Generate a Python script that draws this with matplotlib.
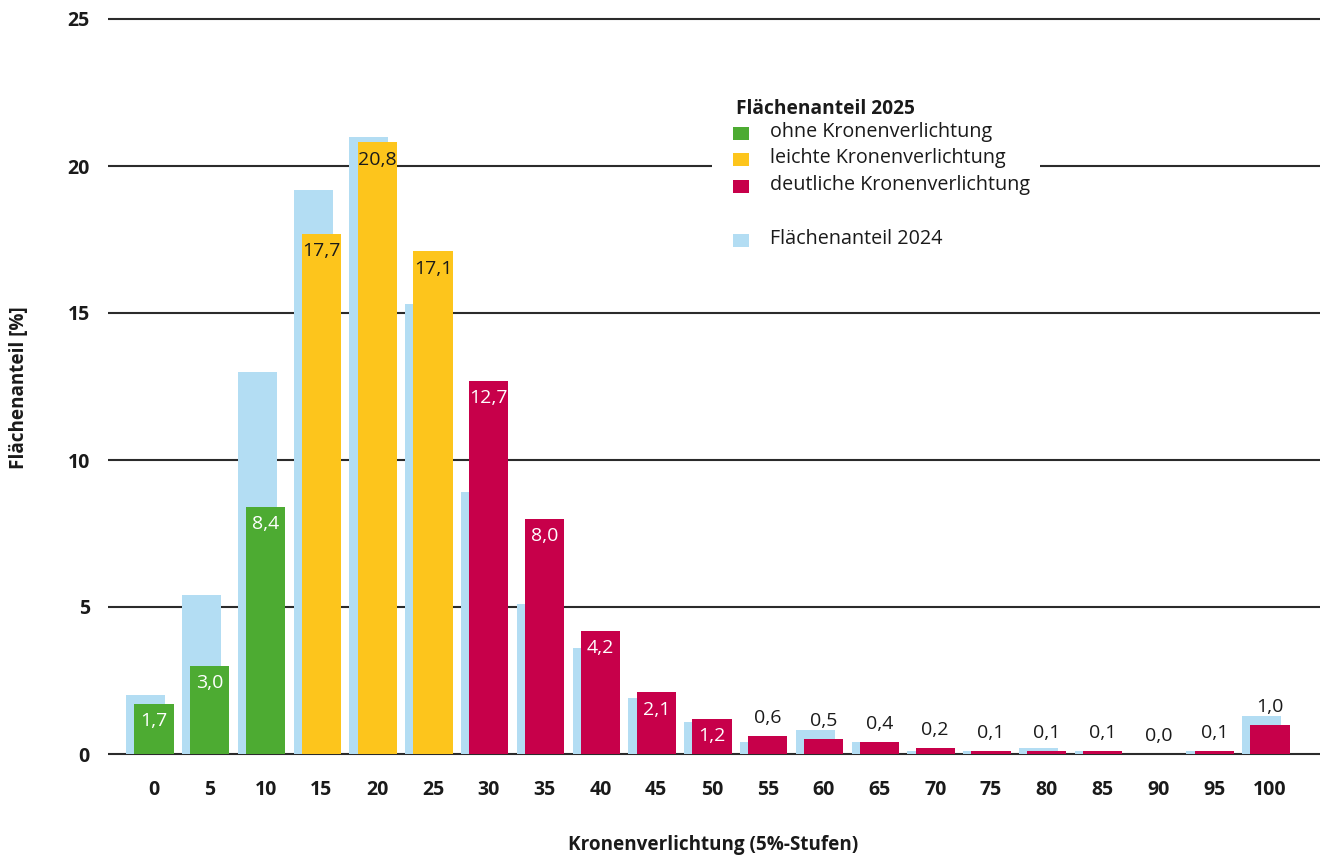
import matplotlib
matplotlib.use("Agg")
import matplotlib.pyplot as plt
from matplotlib.patches import Rectangle
import numpy as np

plt.rcParams['font.family'] = ['Open Sans', 'DejaVu Sans']

categories = ['0', '5', '10', '15', '20', '25', '30', '35', '40', '45', '50',
              '55', '60', '65', '70', '75', '80', '85', '90', '95', '100']
values_2025 = [1.7, 3.0, 8.4, 17.7, 20.8, 17.1, 12.7, 8.0, 4.2, 2.1, 1.2,
               0.6, 0.5, 0.4, 0.2, 0.1, 0.1, 0.1, 0.0, 0.1, 1.0]
values_2024 = [2.0, 5.4, 13.0, 19.2, 21.0, 15.3, 8.9, 5.1, 3.6, 1.9, 1.1,
               0.4, 0.8, 0.4, 0.1, 0.1, 0.2, 0.1, 0.0, 0.1, 1.3]
groups = ['ohne', 'ohne', 'ohne', 'leicht', 'leicht', 'leicht'] + ['deutlich'] * 15
legend_labels = ['ohne Kronenverlichtung', 'leichte Kronenverlichtung',
                 'deutliche Kronenverlichtung']
yticks = [0, 5, 10, 15, 20, 25]

col = {'ohne': '#4dab32', 'leicht': '#fdc51c', 'deutlich': '#c7004a'}
col_2024 = '#b3ddf3'
inside_text = {'ohne': 'white', 'leicht': '#1a1a1a', 'deutlich': 'white'}

W, H = 1320, 858
fig = plt.figure(figsize=(W / 100, H / 100), dpi=100)
fx = lambda x: x / W
fy = lambda y: 1 - y / H

y0px, y25px = 754, 19
ppu = (y0px - y25px) / 25
ylo, yhi = -0.08, 25.08
x0px, dxpx = 154, 55.8
xlo = (108 - x0px) / dxpx
xhi = (1320 - x0px) / dxpx
ax = fig.add_axes([fx(108), fy(y0px + 0.08 * ppu),
                   fx(1320) - fx(108), (yhi - ylo) * ppu / H])
ax.set_xlim(xlo, xhi)
ax.set_ylim(ylo, yhi)

x = np.arange(len(categories))
bw = 0.70
off = -0.15
ax.bar(x + off, values_2024, width=bw, color=col_2024, zorder=2, linewidth=0)
ax.bar(x, values_2025, width=bw, color=[col[g] for g in groups], zorder=3, linewidth=0)

for xi, v, g in zip(x, values_2025, groups):
    lab = f"{v:.1f}".replace('.', ',')
    if v >= 1.15:
        ax.annotate(lab, (xi, v), xytext=(0, -12.5), textcoords='offset points',
                    ha='center', va='center', fontsize=14, color=inside_text[g], zorder=5)
    else:
        ax.annotate(lab, (xi, v), xytext=(0, 13), textcoords='offset points',
                    ha='center', va='center', fontsize=14, color='#1a1a1a', zorder=5)

ax.set_yticks(yticks)
ax.set_yticklabels([str(t) for t in yticks], fontsize=14, fontweight='bold', color='#1a1a1a')
ax.set_xticks(x)
ax.set_xticklabels(categories, fontsize=14, fontweight='bold', color='#1a1a1a')
ax.tick_params(axis='both', length=0)
ax.tick_params(axis='y', pad=13)
ax.tick_params(axis='x', pad=17)
ax.grid(axis='y', color='#2b2b2b', linewidth=1.5, zorder=1)
ax.set_axisbelow(True)
for s in ax.spines.values():
    s.set_visible(False)

fig.text(fx(713), fy(845), 'Kronenverlichtung (5%-Stufen)', ha='center', va='center',
         fontsize=13.6, fontweight='bold', color='#1a1a1a')
fig.text(fx(19), fy(388), 'Flächenanteil [%]', ha='center', va='center', rotation=90,
         fontsize=13.6, fontweight='bold', color='#1a1a1a')

# legend
fig.patches.append(Rectangle((fx(712), fy(272)), fx(1040) - fx(712), fy(86) - fy(272),
                             transform=fig.transFigure, facecolor='white', edgecolor='none',
                             zorder=4))
fig.text(fx(736), fy(109), 'Flächenanteil 2025', ha='left', va='center', fontsize=13.8,
         fontweight='bold', color='#1a1a1a', zorder=6)
ly = [133, 159, 186]
for yy, g, lab in zip(ly, ['ohne', 'leicht', 'deutlich'], legend_labels):
    fig.patches.append(Rectangle((fx(733), fy(yy + 6.5)), fx(749) - fx(733), 13 / H,
                                 transform=fig.transFigure, facecolor=col[g],
                                 edgecolor='none', zorder=6))
    fig.text(fx(770), fy(yy - 1), lab, ha='left', va='center', fontsize=14.2,
             color='#1a1a1a', zorder=6)
fig.patches.append(Rectangle((fx(733), fy(240 + 6.5)), fx(749) - fx(733), 13 / H,
                             transform=fig.transFigure, facecolor=col_2024,
                             edgecolor='none', zorder=6))
fig.text(fx(770), fy(239), 'Flächenanteil 2024', ha='left', va='center', fontsize=14.2,
         color='#1a1a1a', zorder=6)

fig.savefig('out.png', dpi=100)
